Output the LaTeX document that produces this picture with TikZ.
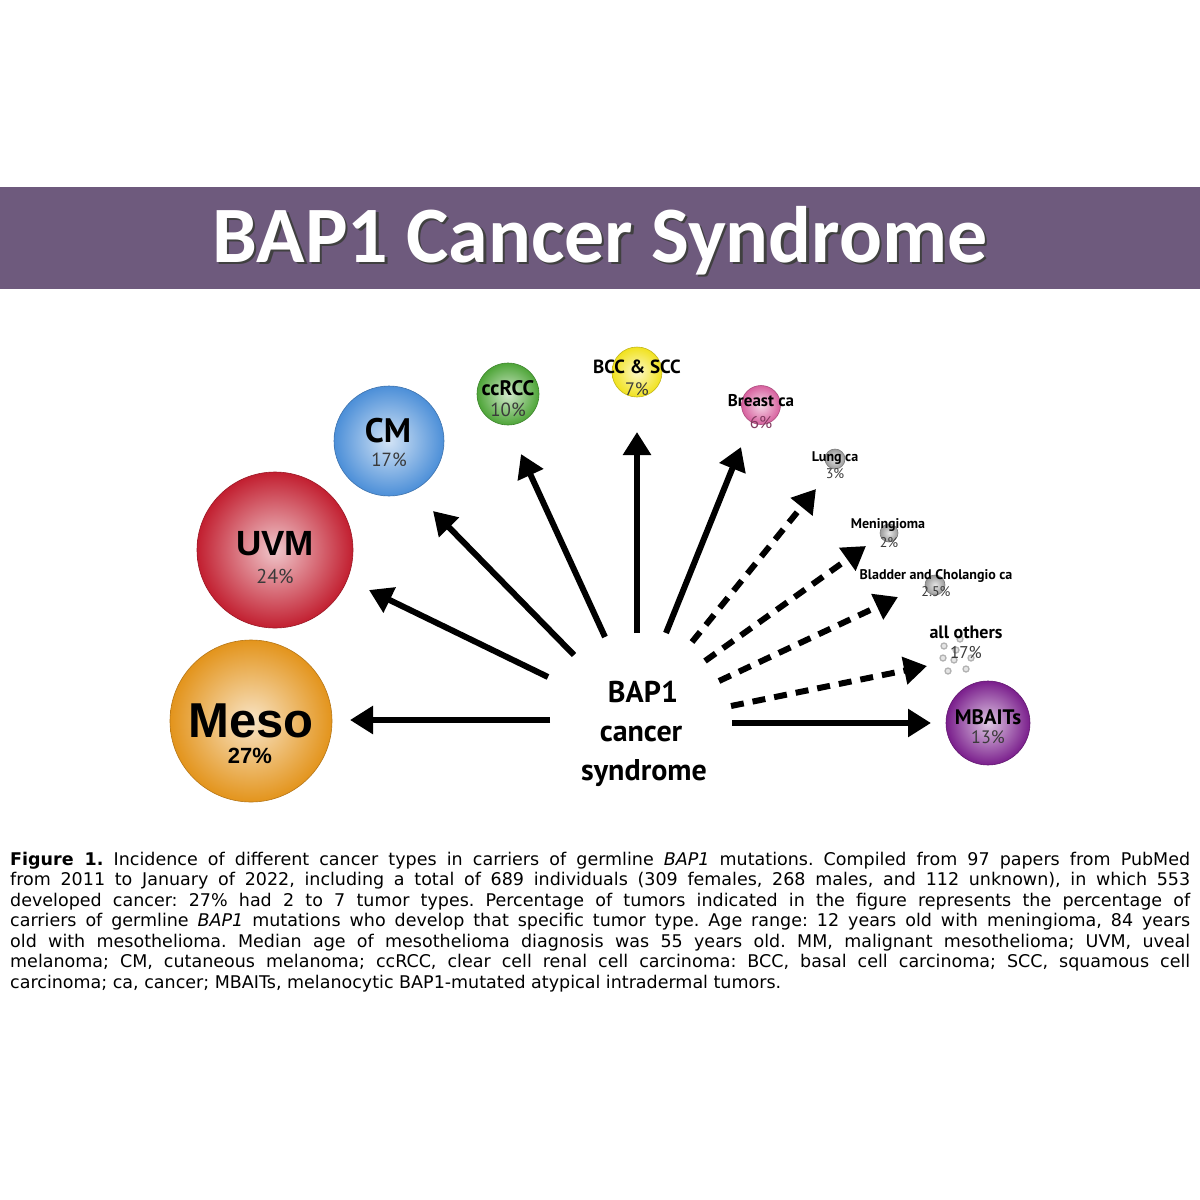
\documentclass[tikz,border=0pt]{standalone}
\usepackage{fontspec}
\setmainfont{PT Sans}
\newfontfamily\ptsans{PT Sans}
\newfontfamily\libsans{Liberation Sans}
\newfontfamily\carlito{Carlito}
\newfontfamily\dejavu{DejaVu Sans}
\usetikzlibrary{arrows.meta}
\newcommand\fs[1]{\fontsize{#1}{#1}\selectfont}
\definecolor{band}{HTML}{6E5A7D}
\definecolor{mesoC}{HTML}{E3941C}
\definecolor{uvmC}{HTML}{C21F30}
\definecolor{cmC}{HTML}{4C8FD8}
\definecolor{rccC}{HTML}{4EA538}
\definecolor{bccC}{HTML}{F1E21E}
\definecolor{brC}{HTML}{D7609E}
\definecolor{grC}{HTML}{9A9A9A}
\definecolor{mbC}{HTML}{7A1E8C}
\definecolor{pctgray}{HTML}{3A3A3A}
\newcommand\shadowtext[1]{\rlap{\hspace{2.5pt}\raisebox{-2.5pt}{\color{black!75}#1}}#1}
\tikzset{
  ball/.style={circle, draw=#1!80!black, line width=0.6pt, inner color=#1!25!white, outer color=#1, inner sep=0pt},
  lab/.style={anchor=base, inner sep=0pt, text=black, font=\ptsans\bfseries},
  pct/.style={anchor=base, inner sep=0pt, text=pctgray, font=\ptsans},
  arr/.style={line width=6pt, -{Triangle[length=23pt,width=27pt]}},
  darr/.style={arr, dash pattern=on 13pt off 9pt},
  dot/.style={circle, draw=gray!60, fill=gray!20, line width=1.3pt, minimum size=6pt, inner sep=0pt},
  capline/.style={anchor=base west, inner sep=0pt, font=\dejavu\fs{17.5}\frenchspacing}
}
\begin{document}
\begin{tikzpicture}[x=1pt,y=-1pt]
\useasboundingbox (0,0) rectangle (1200,1200);
\fill[white] (0,0) rectangle (1200,1200);
% title band
\fill[band] (0,187) rectangle (1200,289);
\node[anchor=base, inner sep=0pt, text=white, font=\carlito\bfseries\fs{80}] (title) at (600,262) {\shadowtext{BAP1 Cancer Syndrome}};

% circles
\node[ball=mesoC, minimum size=162pt] (meso) at (251,721) {};
\node[ball=uvmC, minimum size=156pt] (uvm) at (275,550) {};
\node[ball=cmC, minimum size=110pt] (cm) at (389,441) {};
\node[ball=rccC, minimum size=62pt] (rcc) at (508,394) {};
\node[ball=bccC, minimum size=50pt] (bcc) at (637,372) {};
\node[ball=brC, minimum size=39pt] (breast) at (761,405) {};
\node[ball=grC, minimum size=20pt] (lung) at (835,459) {};
\node[ball=grC, minimum size=18pt] (mening) at (889,533) {};
\node[ball=grC, minimum size=20pt] (bladder) at (935,585) {};
\node[ball=mbC, minimum size=84pt] (mbaits) at (988,723) {};
% all others dots
\node[dot] (d1) at (944,646) {};
\node[dot] (d2) at (960,639) {};
\node[dot] (d3) at (943,658) {};
\node[dot] (d4) at (954,660) {};
\node[dot] (d5) at (971,658) {};
\node[dot] (d6) at (948,671) {};
\node[dot] (d7) at (966,669) {};
\node[dot] (d8) at (956,650) {};

% labels
\node[lab, font=\libsans\bfseries\fs{49}] (mesoT) at (251,737) {Meso};
\node[lab, font=\libsans\bfseries\fs{22}] (mesoP) at (250,763) {27\%};
\node[lab, font=\libsans\bfseries\fs{35}] (uvmT) at (275,555) {UVM};
\node[pct, font=\ptsans\fs{20}] (uvmP) at (275,583) {24\%};
\node[lab, font=\ptsans\bfseries\fs{34}] (cmT) at (388,442) {CM};
\node[pct, font=\ptsans\fs{19}] (cmP) at (389,466) {17\%};
\node[lab, font=\ptsans\bfseries\fs{21}] (rccT) at (508,395) {ccRCC};
\node[pct, font=\ptsans\fs{19}] (rccP) at (508,416) {10\%};
\node[lab, font=\ptsans\bfseries\fs{19}] (bccT) at (637,373) {BCC \& SCC};
\node[pct, font=\ptsans\fs{18}] (bccP) at (637,395) {7\%};
\node[lab, font=\ptsans\bfseries\fs{17}] (brT) at (761,406) {Breast ca};
\node[pct, font=\ptsans\fs{17}, text=brC!60!black] (brP) at (761,428) {6\%};
\node[lab, font=\ptsans\bfseries\fs{14}] (lungT) at (835,461) {Lung ca};
\node[pct, font=\ptsans\fs{14}] (lungP) at (835,478) {3\%};
\node[lab, font=\ptsans\bfseries\fs{14}] (meningT) at (888,528) {Meningioma};
\node[pct, font=\ptsans\fs{14}] (meningP) at (889,547) {2\%};
\node[lab, font=\ptsans\bfseries\fs{14}] (bladderT) at (936,579) {Bladder and Cholangio ca};
\node[pct, font=\ptsans\fs{14}] (bladderP) at (936,596) {2.5\%};
\node[lab, font=\ptsans\bfseries\fs{18}] (othT) at (966,638) {all others};
\node[pct, font=\ptsans\fs{17}] (othP) at (966,658) {17\%};
\node[lab, font=\ptsans\bfseries\fs{21}] (mbT) at (988,724) {MBAITs};
\node[pct, font=\ptsans\fs{18}] (mbP) at (988,743) {13\%};

% centre
\node[anchor=base, inner sep=0pt, font=\ptsans\bfseries\fs{30}] (bap1) at (643,702) {BAP1};
\node[anchor=base, inner sep=0pt, font=\ptsans\bfseries\fs{30}] (bap2) at (641,741) {cancer};
\node[anchor=base, inner sep=0pt, font=\ptsans\bfseries\fs{30}] (bap3) at (644,780) {syndrome};

% arrow coordinates
\coordinate (s1) at (550,720);  \coordinate (t1) at (350,720);
\coordinate (s2) at (548,677);  \coordinate (t2) at (369,590);
\coordinate (s3) at (574,655);  \coordinate (t3) at (433,511);
\coordinate (s4) at (605,637);  \coordinate (t4) at (521,454);
\coordinate (s5) at (637,633);  \coordinate (t5) at (637,432);
\coordinate (s6) at (666,633);  \coordinate (t6) at (741,447);
\coordinate (s7) at (692,642);  \coordinate (t7) at (816,489);
\coordinate (s8) at (705,661);  \coordinate (t8) at (866,546);
\coordinate (s9) at (719,681);  \coordinate (t9) at (898,597);
\coordinate (s10) at (731,706); \coordinate (t10) at (927,666);
\coordinate (s11) at (732,723); \coordinate (t11) at (931,723);
\draw[arr] (s1) -- (t1);
\draw[arr] (s2) -- (t2);
\draw[arr] (s3) -- (t3);
\draw[arr] (s4) -- (t4);
\draw[arr] (s5) -- (t5);
\draw[arr] (s6) -- (t6);
\draw[darr] (s7) -- (t7);
\draw[darr] (s8) -- (t8);
\draw[darr] (s9) -- (t9);
\draw[darr] (s10) -- (t10);
\draw[arr] (s11) -- (t11);

% caption
\node[capline] (c1) at (10,865) {\makebox[1180pt][s]{\textbf{Figure 1.} Incidence of different cancer types in carriers of germline \textit{BAP1} mutations. Compiled from 97 papers from PubMed}};
\node[capline] (c2) at (10,885.5) {\makebox[1180pt][s]{from 2011 to January of 2022, including a total of 689 individuals (309 females, 268 males, and 112 unknown), in which 553}};
\node[capline] (c3) at (10,906) {\makebox[1180pt][s]{developed cancer: 27\% had 2 to 7 tumor types. Percentage of tumors indicated in the figure represents the percentage of}};
\node[capline] (c4) at (10,926.5) {\makebox[1180pt][s]{carriers of germline \textit{BAP1} mutations who develop that specific tumor type. Age range: 12 years old with meningioma, 84 years}};
\node[capline] (c5) at (10,947) {\makebox[1180pt][s]{old with mesothelioma. Median age of mesothelioma diagnosis was 55 years old. MM, malignant mesothelioma; UVM, uveal}};
\node[capline] (c6) at (10,967.5) {\makebox[1180pt][s]{melanoma; CM, cutaneous melanoma; ccRCC, clear cell renal cell carcinoma: BCC, basal cell carcinoma; SCC, squamous cell}};
\node[capline] (c7) at (10,988) {carcinoma; ca, cancer; MBAITs, melanocytic BAP1-mutated atypical intradermal tumors.};
\end{tikzpicture}
\end{document}
